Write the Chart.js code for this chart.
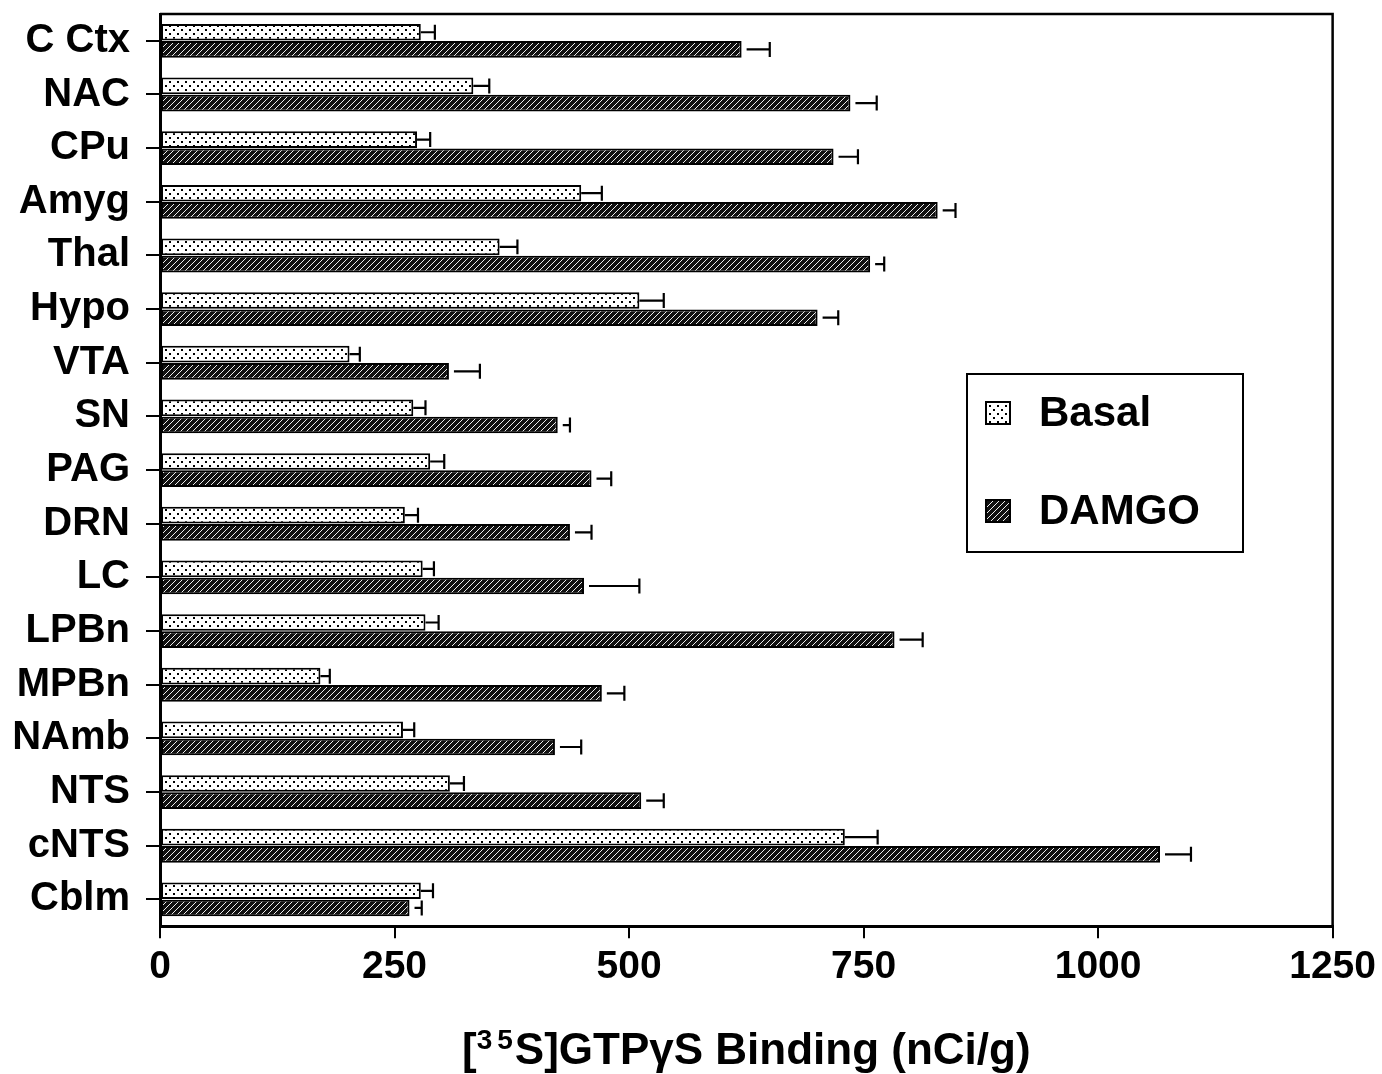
<!DOCTYPE html>
<html lang="en">
<head>
    <meta charset="UTF-8">
    <title>GTPgS Binding</title>
    <style>
        body {
            margin: 0;
            padding: 0;
            background: #fff;
        }
        #wrap {
            width: 1382px;
            height: 1074px;
        }
    </style>
</head>
<body>
    <div id="wrap">
        <canvas id="bindingChart" width="1382" height="1074"></canvas>
    </div>

    <script src="https://cdn.jsdelivr.net/npm/chart.js"></script>
    <script>
        // values (nCi/g)
        const regions = ['C Ctx', 'NAC', 'CPu', 'Amyg', 'Thal', 'Hypo', 'VTA', 'SN', 'PAG', 'DRN', 'LC', 'LPBn', 'MPBn', 'NAmb', 'NTS', 'cNTS', 'Cblm'];
        const basal = [278, 334, 274, 449, 362, 511, 202, 270, 288, 261, 280, 283, 171, 259, 309, 730, 278];
        const basalErr = [15, 17, 14, 22, 19, 26, 11, 13, 15, 14, 12, 14, 10, 12, 15, 35, 13];
        const damgo = [620, 736, 718, 829, 757, 701, 308, 424, 460, 437, 452, 783, 471, 421, 513, 1066, 266];
        const damgoErr = [30, 28, 26, 19, 15, 22, 33, 13, 21, 23, 59, 30, 24, 28, 24, 33, 13];
        const xTicks = [0, 250, 500, 750, 1000, 1250];

        const FONT = '"Liberation Sans", Arial, Helvetica, sans-serif';

        function dotPattern() {
            const c = document.createElement('canvas');
            c.width = 8;
            c.height = 8;
            const g = c.getContext('2d');
            g.fillStyle = '#fff';
            g.fillRect(0, 0, 8, 8);
            g.fillStyle = '#000';
            g.fillRect(1, 1, 2, 2);
            g.fillRect(5, 5, 2, 2);
            return g.createPattern(c, 'repeat');
        }

        function hatchPattern() {
            const c = document.createElement('canvas');
            c.width = 6;
            c.height = 6;
            const g = c.getContext('2d');
            g.fillStyle = '#111';
            g.fillRect(0, 0, 6, 6);
            g.strokeStyle = '#eee';
            g.lineWidth = 1;
            g.beginPath();
            g.moveTo(0, 6); g.lineTo(6, 0);
            g.moveTo(-3, 3); g.lineTo(3, -3);
            g.moveTo(3, 9); g.lineTo(9, 3);
            g.stroke();
            return g.createPattern(c, 'repeat');
        }

        const basalFill = dotPattern();
        const damgoFill = hatchPattern();
        const errs = [basalErr, damgoErr];
        const errGap = [0, 5];

        // error bars only on the right side, with a cap
        const errorBars = {
            id: 'errorBars',
            afterDatasetsDraw(chart) {
                const ctx = chart.ctx;
                const xs = chart.scales.x;
                ctx.save();
                ctx.strokeStyle = '#000';
                ctx.lineWidth = 2.2;
                chart.data.datasets.forEach((ds, di) => {
                    const meta = chart.getDatasetMeta(di);
                    meta.data.forEach((bar, i) => {
                        const x0 = bar.x + errGap[di];
                        const x1 = xs.getPixelForValue(ds.data[i] + errs[di][i]);
                        const h = bar.height * 0.9;
                        ctx.beginPath();
                        ctx.moveTo(x0, bar.y);
                        ctx.lineTo(x1, bar.y);
                        ctx.moveTo(x1, bar.y - h / 2);
                        ctx.lineTo(x1, bar.y + h / 2);
                        ctx.stroke();
                    });
                });
                ctx.restore();
            }
        };

        // top/right frame, the boxed legend and the axis title with a real superscript
        const frameAndLegend = {
            id: 'frameAndLegend',
            afterDraw(chart) {
                const ctx = chart.ctx;
                const a = chart.chartArea;
                ctx.save();
                ctx.strokeStyle = '#000';
                ctx.lineWidth = 2.5;
                ctx.beginPath();
                ctx.moveTo(a.left, a.top);
                ctx.lineTo(a.right, a.top);
                ctx.lineTo(a.right, a.bottom);
                ctx.stroke();

                const bx = a.left + 807, by = a.top + 360;
                ctx.lineWidth = 2;
                ctx.strokeRect(bx, by, 276, 178);

                const items = [['Basal', basalFill, 28], ['DAMGO', damgoFill, 126]];
                ctx.font = 'bold 42px ' + FONT;
                ctx.textBaseline = 'middle';
                ctx.textAlign = 'left';
                items.forEach(([label, fill, dy]) => {
                    ctx.fillStyle = fill;
                    ctx.fillRect(bx + 19, by + dy, 24, 22);
                    ctx.lineWidth = 2;
                    ctx.strokeRect(bx + 19, by + dy, 24, 22);
                    ctx.fillStyle = '#000';
                    ctx.fillText(label, bx + 72, by + dy + 12);
                });

                // x axis title: [35S]GTPγS Binding (nCi/g)
                const big = 'bold 44px ' + FONT;
                const small = 'bold 28px ' + FONT;
                const pre = '[', sup1 = '3', sup2 = '5', post = 'S]GTP\u03B3S Binding (nCi/g)';
                ctx.font = big;
                const wPre = ctx.measureText(pre).width;
                const wPost = ctx.measureText(post).width;
                ctx.font = small;
                const w1 = ctx.measureText(sup1).width;
                const w2 = ctx.measureText(sup2).width;
                const gap = 5;
                const total = wPre + w1 + gap + w2 + 2 + wPost;
                let x = (a.left + a.right) / 2 - total / 2;
                const base = 1064;
                ctx.textBaseline = 'alphabetic';
                ctx.fillStyle = '#000';
                ctx.font = big;
                ctx.fillText(pre, x, base);
                x += wPre;
                ctx.font = small;
                ctx.fillText(sup1, x, base - 15);
                x += w1 + gap;
                ctx.fillText(sup2, x, base - 15);
                x += w2 + 2;
                ctx.font = big;
                ctx.fillText(post, x, base);
                ctx.restore();
            }
        };

        const chart = new Chart(document.getElementById('bindingChart'), {
            type: 'bar',
            data: {
                labels: regions,
                datasets: [
                    {
                        label: 'Basal',
                        data: basal,
                        backgroundColor: basalFill,
                        borderColor: '#000',
                        borderWidth: 2,
                        borderSkipped: false
                    },
                    {
                        label: 'DAMGO',
                        data: damgo,
                        backgroundColor: damgoFill,
                        borderColor: '#000',
                        borderWidth: 2,
                        borderSkipped: false
                    }
                ]
            },
            plugins: [errorBars, frameAndLegend],
            options: {
                indexAxis: 'y',
                responsive: false,
                animation: false,
                categoryPercentage: 0.64,
                barPercentage: 0.97,
                layout: {
                    padding: { top: 14, right: 48, left: 0, bottom: 77 }
                },
                plugins: {
                    legend: { display: false },
                    tooltip: { enabled: false }
                },
                scales: {
                    x: {
                        type: 'linear',
                        min: xTicks[0],
                        max: xTicks[xTicks.length - 1],
                        afterBuildTicks: (scale) => {
                            scale.ticks = xTicks.map(v => ({ value: v }));
                        },
                        ticks: {
                            color: '#000',
                            font: { family: FONT, size: 39, weight: 'bold' },
                            padding: 6,
                            maxRotation: 0,
                            callback: (v) => String(v)
                        },
                        grid: {
                            drawOnChartArea: false,
                            drawTicks: true,
                            tickLength: 12,
                            color: '#000',
                            lineWidth: 2
                        },
                        border: { display: true, color: '#000', width: 3 }
                    },
                    y: {
                        afterFit: (scale) => {
                            scale.width = 160;
                            scale.paddingTop = 0;
                            scale.paddingBottom = 0;
                        },
                        ticks: {
                            color: '#000',
                            font: { family: FONT, size: 40, weight: 'bold' },
                            padding: 16
                        },
                        grid: {
                            offset: false,
                            drawOnChartArea: false,
                            drawTicks: true,
                            tickLength: 14,
                            color: '#000',
                            lineWidth: 2
                        },
                        border: { display: true, color: '#000', width: 3 }
                    }
                }
            }
        });
    </script>
</body>
</html>
